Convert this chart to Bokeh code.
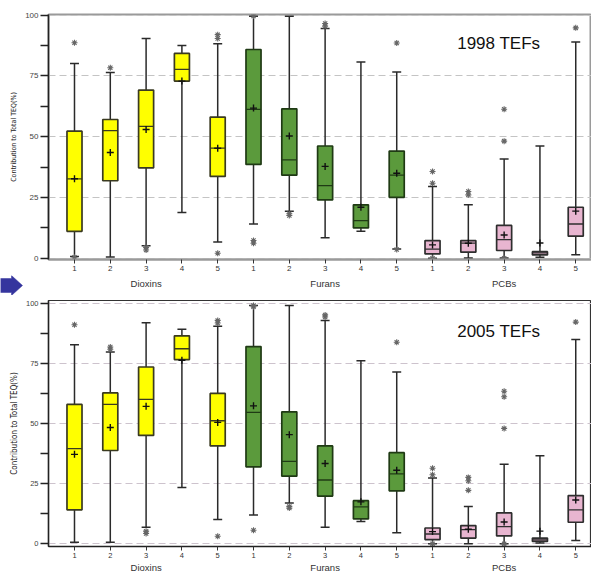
from bokeh.plotting import figure
from bokeh.models import Range1d, FixedTicker, LinearAxis, Label
from bokeh.layouts import column, row
from bokeh.core.properties import value
from bokeh.embed import file_html
from bokeh.resources import INLINE

# ---------------- data ----------------
groups = ["Dioxins", "Furans", "PCBs"]
sub_labels = ["1", "2", "3", "4", "5"] * 3
group_of = ["Dioxins"] * 5 + ["Furans"] * 5 + ["PCBs"] * 5

# 1998 TEFs
whi_98 = [80.1, 76.4, 90.4, 87.5, 88.3, 99.6, 99.6, 94.5, 80.8, 76.6, 29.5, 22.0, 40.8, 46.2, 89.0]
q3_98 = [52.3, 57.1, 69.2, 84.3, 58.1, 85.9, 61.5, 46.2, 22.0, 44.1, 7.3, 7.3, 13.5, 2.7, 21.0]
med_98 = [32.7, 52.5, 54.3, 77.7, 45.3, 61.3, 40.5, 29.9, 15.5, 34.2, 3.8, 6.2, 7.7, 2.2, 14.1]
q1_98 = [11.1, 31.9, 37.2, 72.9, 33.7, 38.6, 34.2, 24.0, 12.5, 25.1, 1.8, 2.5, 3.2, 1.4, 9.1]
wlo_98 = [0.7, 0.5, 5.2, 18.8, 6.7, 14.1, 19.4, 8.4, 11.1, 3.8, 0.0, 0.1, 0.1, 0.4, 1.5]
mean_98 = [32.7, 43.5, 53.0, 72.9, 45.3, 61.8, 50.3, 37.8, 21.0, 35.0, 5.5, 6.2, 9.6, 6.3, 19.4]
out_98 = [[88.7, 0.4], [78.4], [4.5, 3.4], [], [92.0, 90.4, 2.1],
          [99.7, 7.3, 6.2], [18.3, 17.6], [96.6, 95.5], [], [88.6, 3.6],
          [35.7, 30.9, 0.0], [27.5, 26.1], [61.3, 48.2, 0.0], [], [94.8]]

# 2005 TEFs
whi_05 = [83.0, 79.9, 92.1, 89.4, 90.7, 99.3, 99.3, 93.1, 76.3, 71.6, 27.4, 15.6, 33.2, 36.7, 85.1]
q3_05 = [58.1, 62.9, 73.7, 86.7, 62.7, 82.2, 55.0, 40.8, 18.0, 38.0, 6.6, 7.6, 12.9, 2.4, 20.1]
med_05 = [39.7, 58.1, 60.2, 81.3, 51.3, 54.8, 34.4, 26.6, 15.4, 29.2, 4.1, 5.9, 7.2, 1.7, 14.2]
q1_05 = [14.2, 38.9, 45.2, 76.8, 40.8, 32.1, 28.2, 19.9, 10.4, 22.1, 1.8, 2.4, 3.3, 1.0, 9.0]
wlo_05 = [0.7, 0.7, 6.9, 23.5, 10.1, 12.0, 17.0, 6.9, 9.3, 4.6, 0.0, 0.0, 0.0, 0.4, 1.4]
mean_05 = [37.3, 48.5, 57.3, 76.5, 50.6, 57.5, 45.5, 33.5, 17.5, 30.7, 5.1, 6.1, 9.1, 5.3, 18.3]
out_05 = [[91.3], [82.0, 81.1], [5.3, 4.3], [], [93.1, 92.0, 3.2],
          [99.3, 98.8, 5.7], [15.6, 14.9], [95.4, 94.5], [], [84.0],
          [31.5, 28.8, 0.0], [27.7, 26.3, 22.3], [63.6, 61.3, 48.1, 0.0], [], [92.4]]

y_ticks = [0, 25, 50, 75, 100]
y_minor = [12.5, 37.5, 62.5, 87.5]

fill_by_group = {"Dioxins": "#ffff00", "Furans": "#5b9a3c", "PCBs": "#e8b5d0"}
edge_by_group = {"Dioxins": "#3a3a20", "Furans": "#1f3a14", "PCBs": "#2e2e2e"}

FONT = "'Liberation Sans', Arial, sans-serif"
NARROW = "'Liberation Sans Narrow', 'DejaVu Sans Condensed', 'Liberation Sans', sans-serif"

W = 591
LEFT_TOP = 48
X0, X1 = 0.274, 15.44
XS = list(range(1, len(sub_labels) + 1))


def group_centers():
    centers = []
    for g in groups:
        idx = [x for x, gg in zip(XS, group_of) if gg == g]
        centers.append(sum(idx) / len(idx))
    return centers


def style_group_axis(ax):
    centers = group_centers()
    ax.ticker = FixedTicker(ticks=centers)
    ax.major_label_overrides = {c: g for c, g in zip(centers, groups)}
    ax.axis_line_color = None
    ax.major_tick_line_color = None
    ax.minor_tick_line_color = None
    ax.major_tick_out = 0
    ax.major_tick_in = 0
    ax.major_label_standoff = 1
    ax.major_label_text_font = FONT
    ax.major_label_text_font_size = "9.5px"
    ax.major_label_text_color = "#333333"


def make_panel(title, whi, q3, med, q1, wlo, mean, outs, height, yr, top_b, left_b,
               bottom_b, outline_color, outline_w, xaxis_color, xaxis_w, tick_font,
               ylabel_font, grid_color, x_standoff, show_groups):
    xs = XS
    p = figure(width=W, height=height, x_range=Range1d(X0, X1),
               y_range=Range1d(*yr), output_backend="svg", toolbar_location=None,
               min_border_left=left_b, min_border_right=0, min_border_top=top_b,
               min_border_bottom=bottom_b)
    p.background_fill_color = "white"
    p.border_fill_color = "white"
    p.outline_line_color = outline_color
    p.outline_line_width = outline_w
    p.xgrid.grid_line_color = None
    p.ygrid.grid_line_color = grid_color
    p.ygrid.grid_line_dash = "7 4"
    p.ygrid.grid_line_width = 1.2

    # y axis
    p.yaxis.ticker = FixedTicker(ticks=y_ticks, minor_ticks=y_minor)
    p.yaxis.major_tick_out = 8
    p.yaxis.major_tick_in = 0
    p.yaxis.minor_tick_out = 8
    p.yaxis.minor_tick_in = 0
    p.yaxis.axis_line_color = "#222222"
    p.yaxis.axis_line_width = 1.5
    p.yaxis.major_tick_line_color = "#222222"
    p.yaxis.minor_tick_line_color = "#222222"
    p.yaxis.major_tick_line_width = 1.3
    p.yaxis.minor_tick_line_width = 1.3
    p.yaxis.major_label_text_font = FONT
    p.yaxis.major_label_text_font_size = tick_font
    p.yaxis.major_label_text_color = "#444444"
    p.yaxis.major_label_standoff = 2
    p.yaxis.axis_label = "Contribution to Total TEQ(%)"
    p.yaxis.axis_label_text_font = NARROW
    p.yaxis.axis_label_text_font_size = ylabel_font
    p.yaxis.axis_label_text_font_style = "normal"
    p.yaxis.axis_label_text_color = "#222222"
    p.yaxis.axis_label_standoff = 4

    # x axis (sub labels)
    p.xaxis.ticker = FixedTicker(ticks=xs)
    p.xaxis.major_label_overrides = {x: lab for x, lab in zip(xs, sub_labels)}
    p.xaxis.major_tick_out = 4
    p.xaxis.major_tick_in = 0
    p.xaxis.minor_tick_line_color = None
    p.xaxis.axis_line_color = xaxis_color
    p.xaxis.axis_line_width = xaxis_w
    p.xaxis.major_tick_line_color = "#333333"
    p.xaxis.major_label_text_font = FONT
    p.xaxis.major_label_text_font_size = tick_font
    p.xaxis.major_label_text_color = "#333333"
    p.xaxis.major_label_standoff = x_standoff

    if show_groups:
        gax = LinearAxis()
        style_group_axis(gax)
        p.add_layout(gax, "below")

    fills = [fill_by_group[g] for g in group_of]
    edges = [edge_by_group[g] for g in group_of]
    bw = 0.42
    cw = 0.25

    # whiskers
    p.segment(x0=xs, y0=q3, x1=xs, y1=whi, line_color="#2a2a2a", line_width=1.5)
    p.segment(x0=xs, y0=wlo, x1=xs, y1=q1, line_color="#2a2a2a", line_width=1.5)
    p.segment(x0=[x - cw / 2 for x in xs], y0=whi, x1=[x + cw / 2 for x in xs], y1=whi,
              line_color="#2a2a2a", line_width=1.5)
    p.segment(x0=[x - cw / 2 for x in xs], y0=wlo, x1=[x + cw / 2 for x in xs], y1=wlo,
              line_color="#2a2a2a", line_width=1.5)
    # boxes
    p.vbar(x=xs, width=bw, bottom=q1, top=q3, fill_color=fills, line_color=edges,
           line_width=1.7)
    # medians
    p.segment(x0=[x - bw / 2 for x in xs], y0=med, x1=[x + bw / 2 for x in xs], y1=med,
              line_color=edges, line_width=1.3)
    # means
    p.scatter(x=xs, y=mean, marker="cross", size=7, line_color="#111111", line_width=1.4)
    # outliers
    ox, oy = [], []
    for x, vals in zip(xs, outs):
        for v in vals:
            ox.append(x)
            oy.append(v)
    p.scatter(x=ox, y=oy, marker="asterisk", size=6, line_color="#666666", line_width=1.1)

    p.add_layout(Label(x=12.85, y=88.5, text=title, text_align="center",
                       text_baseline="middle", text_font=FONT, text_font_size="17px",
                       text_color="#111111"))
    return p


p1 = make_panel("1998 TEFs", whi_98, q3_98, med_98, q1_98, wlo_98, mean_98, out_98,
                height=275, yr=(-0.5, 100.3), top_b=14, left_b=LEFT_TOP, bottom_b=16,
                outline_color="#9a9a9a", outline_w=2, xaxis_color="#9a9a9a", xaxis_w=2,
                tick_font="8px", ylabel_font="7px", grid_color="#c4c4c4", x_standoff=2,
                show_groups=False)

# ---- strip between the panels: navigation arrow + group labels of the top panel ----
STRIP_H = 20
ARROW_C = "#35359e"


def bare_figure(w, xr):
    f = figure(width=w, height=STRIP_H, x_range=xr, y_range=Range1d(0, STRIP_H),
               x_axis_type=None, y_axis_type=None, output_backend="svg",
               toolbar_location=None, min_border=0)
    f.outline_line_color = None
    f.background_fill_color = "white"
    f.border_fill_color = "white"
    return f


arr = bare_figure(LEFT_TOP, Range1d(0, LEFT_TOP))
arr.patch(x=[0, 11, 11, 22, 11, 11, 0], y=[17, 17, 20, 10, 0, 3, 3],
          fill_color=ARROW_C, line_color=ARROW_C, line_width=0.5)

grp = bare_figure(W - LEFT_TOP, Range1d(X0, X1))
grp.text(x=group_centers(), y=[12] * len(groups), text=groups,
         text_font=value(FONT), text_font_size=value("9.5px"), text_color="#333333",
         text_align="center", text_baseline="middle")

strip = row(arr, grp, spacing=0)

p2 = make_panel("2005 TEFs", whi_05, q3_05, med_05, q1_05, wlo_05, mean_05, out_05,
                height=280, yr=(-1.1, 101.4), top_b=5, left_b=46, bottom_b=28,
                outline_color="#333333", outline_w=1.2, xaxis_color="#222222", xaxis_w=1.5,
                tick_font="7.5px", ylabel_font="8px", grid_color="#cdc3cd", x_standoff=2,
                show_groups=True)

layout = column(p1, strip, p2, spacing=0)

with open("out.html", "w") as f:
    f.write(file_html(layout, INLINE))
